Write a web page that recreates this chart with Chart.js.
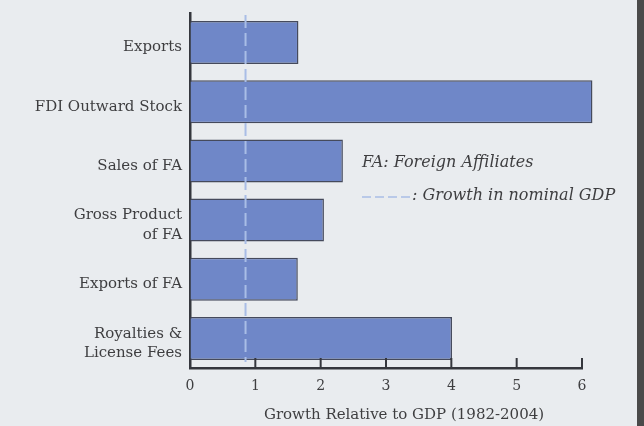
<!DOCTYPE html>
<html><head><meta charset="utf-8">
<script src="https://cdn.jsdelivr.net/npm/chart.js@4"></script>
<style>
html,body{margin:0;padding:0;background:#e9ecef;}
#wrap{position:relative;width:644px;height:426px;overflow:hidden;background:#e9ecef;}
#edge{position:absolute;right:0;top:0;width:7px;height:426px;background:#4a4a4a;}
canvas{position:absolute;left:0;top:0;}
</style></head><body>
<div id="wrap"><canvas id="c" width="644" height="426"></canvas><div id="edge"></div></div>
<script>
const categories = ['Exports', 'FDI Outward Stock', 'Sales of FA', ['Gross Product', 'of FA'], 'Exports of FA', ['Royalties &', 'License Fees']];
const growthValues = [1.66, 6.16, 2.34, 2.05, 1.65, 4.01];
const xTickValues = [0, 1, 2, 3, 4, 5, 6];
const gdpGrowth = 0.85;
const axisTitle = 'Growth Relative to GDP (1982-2004)';
const noteLine1 = 'FA: Foreign Affiliates';
const noteLine2 = ': Growth in nominal GDP';

const SERIF = '"DejaVu Serif", serif';
const TEXT = '#3e3e40';

const extras = {
  id: 'extras',
  afterDatasetsDraw(chart) {
    const x = chart.scales.x, a = chart.chartArea, ctx = chart.ctx;
    ctx.save();
    // GDP growth reference line
    ctx.strokeStyle = '#a9bde6';
    ctx.lineWidth = 2;
    ctx.setLineDash([13, 5]);
    const px = x.getPixelForValue(gdpGrowth);
    ctx.beginPath(); ctx.moveTo(px, a.top + 2); ctx.lineTo(px, a.bottom - 6); ctx.stroke();
    // inward tick marks
    ctx.setLineDash([]);
    ctx.strokeStyle = '#35373d';
    ctx.lineWidth = 2;
    xTickValues.slice(1).forEach(v => {
      const p = x.getPixelForValue(v);
      ctx.beginPath(); ctx.moveTo(p, a.bottom); ctx.lineTo(p, a.bottom - 10); ctx.stroke();
    });
    // axis title
    ctx.fillStyle = TEXT;
    ctx.font = '15px ' + SERIF;
    ctx.textAlign = 'center';
    ctx.textBaseline = 'middle';
    ctx.fillText(axisTitle, (a.left + a.right) / 2 + 18, 415);
    // notes
    ctx.font = 'italic 16px ' + SERIF;
    ctx.textAlign = 'left';
    const nx = a.left + 172;
    ctx.fillText(noteLine1, nx, 163);
    ctx.strokeStyle = '#a9bde6';
    ctx.lineWidth = 1.5;
    ctx.setLineDash([9, 4]);
    ctx.beginPath(); ctx.moveTo(nx, 197); ctx.lineTo(nx + 49, 197); ctx.stroke();
    ctx.fillText(noteLine2, nx + 50, 196);
    ctx.restore();
  }
};

new Chart(document.getElementById('c'), {
  type: 'bar',
  data: {
    labels: categories,
    datasets: [{
      data: growthValues,
      backgroundColor: '#6f87c8',
      borderColor: '#454a5c',
      borderWidth: 1.5,
      categoryPercentage: 1,
      barPercentage: 0.727,
      clip: false
    }]
  },
  options: {
    indexAxis: 'y',
    responsive: false,
    animation: false,
    devicePixelRatio: 1,
    layout: { padding: { top: 13, right: 62, bottom: 0, left: 0 } },
    plugins: { legend: { display: false }, tooltip: { enabled: false } },
    scales: {
      x: {
        min: 0, max: 6,
        afterBuildTicks: s => { s.ticks = xTickValues.map(v => ({ value: v })); },
        afterFit: s => { s.height = 58; s.paddingLeft = 0; s.paddingRight = 0; },
        grid: { drawOnChartArea: false, drawTicks: false },
        border: { display: true, color: '#35373d', width: 2.5 },
        ticks: { color: TEXT, font: { family: SERIF, size: 14 }, padding: 10 }
      },
      y: {
        afterFit: s => { s.width = 190; s.paddingTop = 0; s.paddingBottom = 0; },
        grid: { drawOnChartArea: false, drawTicks: false },
        border: { display: true, color: '#35373d', width: 2.5 },
        ticks: { color: TEXT, font: { family: SERIF, size: 15, lineHeight: 1.3 }, padding: 8, labelOffset: 5 }
      }
    }
  },
  plugins: [extras]
});
</script>
</body></html>
